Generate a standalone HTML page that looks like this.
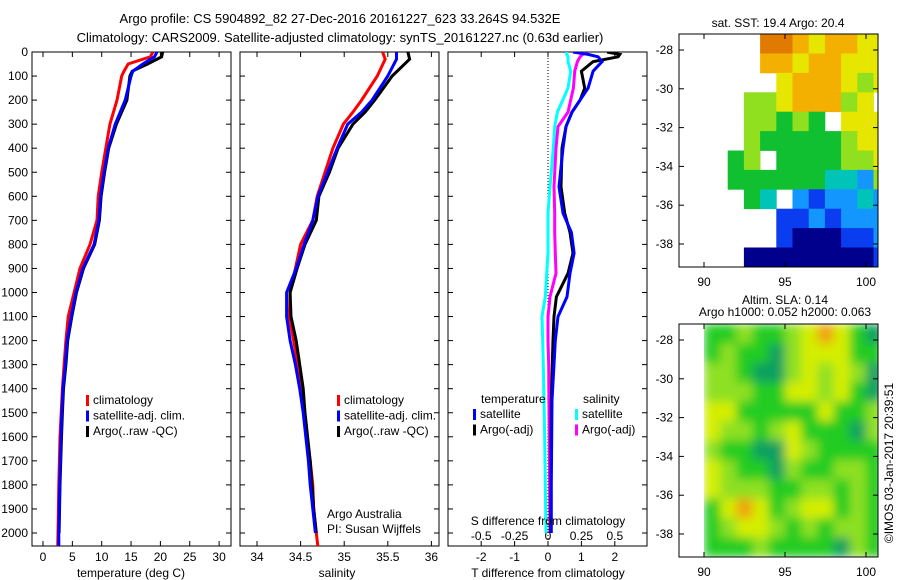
<!DOCTYPE html>
<html><head><meta charset="utf-8">
<style>
html,body{margin:0;padding:0;background:#fff;}
svg{display:block;font-family:"Liberation Sans",Arial,sans-serif;}
text{font-size:12px;fill:#000;}
</style></head>
<body>
<svg id="fig" width="900" height="580" viewBox="0 0 900 580" xmlns="http://www.w3.org/2000/svg">
<defs>
<clipPath id="c1"><rect x="32" y="52" width="199" height="494"/></clipPath>
<clipPath id="c2"><rect x="240" y="52" width="199" height="494"/></clipPath>
<clipPath id="c3"><rect x="448" y="52" width="200" height="494"/></clipPath>
<clipPath id="cm1"><rect x="679" y="34" width="199" height="233"/></clipPath>
<clipPath id="cm2"><rect x="679" y="324" width="199" height="233"/></clipPath>
<filter id="blur"><feGaussianBlur stdDeviation="5"/></filter>
</defs>
<text x="340" y="23" text-anchor="middle" style="font-size:13px">Argo profile: CS 5904892_82 27-Dec-2016 20161227_623 33.264S 94.532E</text>
<text x="340" y="42" text-anchor="middle" style="font-size:13px">Climatology: CARS2009. Satellite-adjusted climatology: synTS_20161227.nc (0.63d earlier)</text>
<g id="layer"></g>
</svg>
<script>
// ---- profile data (depth in dbar) ----
const depthT = [0,20,50,80,100,200,300,400,500,600,700,800,900,1000,1100,1200,1300,1400,1500,1600,1800,2000,2060];
const tempClim = [18.7,18.3,14.5,13.8,13.4,12.6,11.4,10.7,10.0,9.4,9.2,8.0,6.3,5.3,4.3,3.9,3.6,3.3,3.1,2.9,2.7,2.55,2.5];
const tempSat  = [19.4,19.0,17.0,15.3,15.0,14.0,12.3,11.1,10.4,9.8,9.5,8.7,6.8,5.6,4.8,4.1,3.8,3.4,3.2,3.07,2.85,2.7,2.7];
const tempArgo = [20.4,20.2,17.8,15.2,14.8,14.3,12.5,11.2,10.5,9.9,9.6,8.8,6.9,5.7,4.9,4.2,3.9,3.5,3.3,3.15,2.9,2.75];
const depthS = [0,30,100,200,250,300,400,500,600,700,800,900,1000,1100,1200,1300,1400,1500,1600,1700,1800,1900,2000,2060];
const salClim = [35.44,35.47,35.38,35.2,35.1,34.99,34.87,34.78,34.69,34.64,34.50,34.44,34.38,34.37,34.42,34.47,34.51,34.54,34.57,34.61,34.64,34.65,34.68,34.70];
const salSat  = [35.6,35.6,35.5,35.32,35.2,35.04,34.92,34.81,34.70,34.64,34.54,34.45,34.34,34.34,34.38,34.44,34.49,34.53,34.56,34.59,34.61,34.64,34.67];
const salArgo = [35.73,35.75,35.55,35.35,35.24,35.1,34.93,34.83,34.71,34.68,34.55,34.46,34.38,34.39,34.45,34.49,34.53,34.55,34.58,34.61,34.63,34.65,34.68];
const depthD = [0,10,20,40,80,150,200,250,310,400,560,670,750,836,920,1018,1100,1200,1300,1450,1600,1800,2000];
const dTSat  = [0.75,1.2,1.5,1.62,1.35,1.2,0.96,0.72,0.54,0.45,0.33,0.45,0.7,0.78,0.66,0.57,0.3,0.22,0.18,0.12,0.11,0.1,0.1];
const dTArgo = [1.77,2.15,2.1,1.35,1.0,1.1,0.96,0.72,0.54,0.42,0.39,0.5,0.66,0.75,0.6,0.25,0.18,0.15,0.13,0.1,0.09,0.09,0.08];
const dSSat  = [0.14,0.14,0.15,0.15,0.17,0.15,0.11,0.07,0.05,0.04,0.015,0.0,0.0,0.0,-0.01,-0.02,-0.045,-0.04,-0.035,-0.03,-0.025,-0.02,-0.015];
const dSArgo = [0.29,0.26,0.24,0.22,0.2,0.19,0.17,0.15,0.075,0.06,0.045,0.05,0.05,0.055,0.06,0.015,0.0,0.0,0.005,0.007,0.01,0.012,0.015];
// ---- axis ticks ----
const depthTicks = [0,100,200,300,400,500,600,700,800,900,1000,1100,1200,1300,1400,1500,1600,1700,1800,1900,2000];
const tempTicks = [0,5,10,15,20,25,30];
const salTicks = [34,34.5,35,35.5,36];
const salTickLabels = ["34","34.5","35","35.5","36"];
const dTTicks = [-2,-1,0,1,2];
const dSTicks = [-0.5,-0.25,0,0.25,0.5];
const dSTickLabels = ["-0.5","-0.25","0","0.25","0.5"];
// ---- map grids (1 degree cells) ----
const satColors = {w:"#ffffff",n:"#00008c",b:"#0a3cf0",c:"#1496ff",t:"#00c4b8",g:"#10c030",l:"#90e020",y:"#e6e600",o:"#f4b000",r:"#e07a00"};
const satGrid = [
"wwwwwrroyooyy",
"wwwwwooyooyyy",
"wwwwwwyoooyly",
"wwwwllyoooly",
"wwwwllglgwyyy",
"wwwwlgggggLyy".replace("L","l"),
"wwwglwggggllyy".slice(0,13),
"wwwggggggttcll".slice(0,13),
"wwwwgtwcbcctcc".slice(0,13),
"wwwwwwbbcbccc",
"wwwwwwbnnnbbc",
"wwwwnnnnnnnnb"];
const slaColors = {g:"#20cc20",l:"#8ee020",y:"#d4ee00",o:"#f0a010",d:"#10a060"};
const slaGrid = [
"gglggl yoy gd".replace(/ /g,""),
"glggdlyyygg",
"llgddlylyld",
"lllggyylygd",
"yygggggyggly".slice(0,11),
"yllglygggdl",
"lggddylgggg",
"ylggdlggllg",
"ylllggllglg",
"gyoyglyyglg",
"glyylglgllg",
"ggglggggdlg"];

const NS="http://www.w3.org/2000/svg";
const layer=document.getElementById('layer');
function el(tag,attrs,parent){const e=document.createElementNS(NS,tag);for(const k in attrs)e.setAttribute(k,attrs[k]);(parent||layer).appendChild(e);return e;}
function txt(x,y,s,anchor,parent,size){const t=el('text',{x:x,y:y,'text-anchor':anchor||'start'},parent);if(size)t.style.fontSize=size+'px';t.textContent=s;return t;}

const Y0=52, PX100=24.05;
function yD(d){return Y0+d*PX100/100;}
const xTemp=v=>43+v*5.87;
const xSal=v=>257+(v-34)*87.2;
const xDT=v=>548+v*33.4;
const xDS=v=>548+v*133.6;

function panel(x0,name,clip){
  const g=el('g',{});
  
  
  const r=el('rect',{x:x0,y:52,width:199,height:494,fill:'none',stroke:'#000','stroke-width':1},g);
  
  
  depthTicks.forEach(d=>{el('line',{x1:x0,x2:x0+5,y1:yD(d),y2:yD(d),stroke:'#000'},g);el('line',{x1:x0+199,x2:x0+194,y1:yD(d),y2:yD(d),stroke:'#000'},g);});
  return g;
}
function series(g,xs,ds,vals,fx,color,w,name,clip){
  const pts=[];for(let i=0;i<vals.length&&i<ds.length;i++)pts.push(fx(vals[i]).toFixed(1)+','+yD(ds[i]).toFixed(1));
  const p=el('polyline',{points:pts.join(' '),fill:'none',stroke:color,'stroke-width':w,'clip-path':'url(#'+clip+')'},g);
  
  
}
function xticks(g,x0,ticks,labels,fx,y){
  ticks.forEach((t,i)=>{const x=fx(t);el('line',{x1:x,x2:x,y1:546,y2:541,stroke:'#000'},g);el('line',{x1:x,x2:x,y1:52,y2:57,stroke:'#000'},g);
  const lb=txt(x,y,labels[i],'middle',g);
  
  });
}
function legend(g,x,y,items){
  items.forEach((it,i)=>{el('rect',{x:x,y:y+i*15.5-9,width:3,height:11,fill:it[1]},g);const t=txt(x+7,y+i*15.5,it[0],'start',g);
  
  });
}

// Panel 1 temperature
const g1=panel(32,'temperature-panel','c1');
depthTicks.forEach(d=>{const t=txt(28,yD(d)+4,String(d),'end',g1);

});
xticks(g1,32,tempTicks,tempTicks.map(String),xTemp,561);
series(g1,0,depthT,tempClim,xTemp,'#ff0000',3,'temp-climatology-line','c1');
series(g1,0,depthT,tempArgo,xTemp,'#000000',3,'temp-argo-line','c1');
series(g1,0,depthT,tempSat,xTemp,'#0000ff',3,'temp-satellite-line','c1');
legend(g1,86,404,[['climatology','#ff0000'],['satellite-adj. clim.','#0000ff'],['Argo(..raw -QC)','#000000']]);
txt(131,577,'temperature (deg C)','middle',g1);

// Panel 2 salinity
const g2=panel(240,'salinity-panel','c2');
xticks(g2,240,salTicks,salTickLabels,xSal,561);
series(g2,0,depthS,salClim,xSal,'#ff0000',3,'sal-climatology-line','c2');
series(g2,0,depthS,salArgo,xSal,'#000000',3,'sal-argo-line','c2');
series(g2,0,depthS,salSat,xSal,'#0000ff',3,'sal-satellite-line','c2');
legend(g2,337,404,[['climatology','#ff0000'],['satellite-adj. clim.','#0000ff'],['Argo(..raw -QC)','#000000']]);
txt(327,518,'Argo Australia','start',g2);
txt(327,533,'PI: Susan Wijffels','start',g2);
txt(337,577,'salinity','middle',g2);

// Panel 3 differences
const g3=panel(448,'difference-panel','c3');
el('line',{x1:548,x2:548,y1:52,y2:546,stroke:'#000','stroke-dasharray':'1,2'},g3);
xticks(g3,448,dTTicks,dTTicks.map(String),xDT,561);
dSTicks.forEach((t,i)=>{const lb=txt(xDS(t),540,dSTickLabels[i],'middle',g3);

});
series(g3,0,depthD,dSSat,xDS,'#00ffff',3,'s-diff-satellite-line','c3');
series(g3,0,depthD,dSArgo,xDS,'#ff00ff',3,'s-diff-argo-line','c3');
series(g3,0,depthD,dTArgo,xDT,'#000000',3,'t-diff-argo-line','c3');
series(g3,0,depthD,dTSat,xDT,'#0000ff',3,'t-diff-satellite-line','c3');
txt(481,403,'temperature','start',g3);
txt(583,403,'salinity','start',g3);
legend(g3,473,418,[['satellite','#0000ff'],['Argo(-adj)','#000000']]);
legend(g3,575,418,[['satellite','#00ffff'],['Argo(-adj)','#ff00ff']]);
txt(548,525,'S difference from climatology','middle',g3);
txt(548,577,'T difference from climatology','middle',g3);

// Maps
const lonX=l=>704+(l-90)*16.2;
function mapAxes(g,top,latY){
  const r=el('rect',{x:679,y:top,width:199,height:233,fill:'none',stroke:'#000'},g);
  
  
  [90,95,100].forEach(l=>{const x=lonX(l);el('line',{x1:x,x2:x,y1:top+233,y2:top+228,stroke:'#000'},g);el('line',{x1:x,x2:x,y1:top,y2:top+5,stroke:'#000'},g);txt(x,top+252,String(l),'middle',g);});
  [-28,-30,-32,-34,-36,-38].forEach(a=>{const y=latY(a);el('line',{x1:679,x2:684,y1:y,y2:y,stroke:'#000'},g);el('line',{x1:878,x2:873,y1:y,y2:y,stroke:'#000'},g);txt(673,y+4,String(a),'end',g);});
}
const g4=el('g',{});


const lat1=a=>50+(-28-a)*19.4;
const cells1=el('g',{'clip-path':'url(#cm1)'},g4);
satGrid.forEach((row,r)=>{for(let c=0;c<row.length;c++){const ch=row[c];if(ch==='w')continue;
  const lon=88.46+c, la=-27.18-r;
  el('rect',{x:lonX(lon).toFixed(1),y:lat1(la).toFixed(1),width:16.6,height:19.8,fill:satColors[ch]},cells1);}});
mapAxes(g4,34,lat1);
txt(778,27,'sat. SST: 19.4 Argo: 20.4','middle',g4);

const g5=el('g',{});


const lat2=a=>340+(-28-a)*19.4;
const cells2=el('g',{'clip-path':'url(#cm2)'},g5);
const inner=el('g',{filter:'url(#blur)'},cells2);
el('rect',{x:704,y:324,width:174,height:233,fill:'#40d020'},inner);
slaGrid.forEach((row,r)=>{for(let c=0;c<row.length;c++){const ch=row[c];
  const lon=90+c, la=-27.18-r;
  el('rect',{x:lonX(lon).toFixed(1),y:lat2(la).toFixed(1),width:16.6,height:19.8,fill:slaColors[ch]},inner);}});
el('rect',{x:679,y:324,width:25,height:233,fill:'#fff'},cells2);
mapAxes(g5,324,lat2);
txt(785,304,'Altim. SLA: 0.14','middle',g5);
txt(785,316,'Argo h1000: 0.052 h2000: 0.063','middle',g5);
const cr=txt(0,0,'©IMOS 03-Jan-2017 20:39:51','middle',layer);
cr.setAttribute('transform','translate(893,463) rotate(-90)');


</script>
</body></html>
